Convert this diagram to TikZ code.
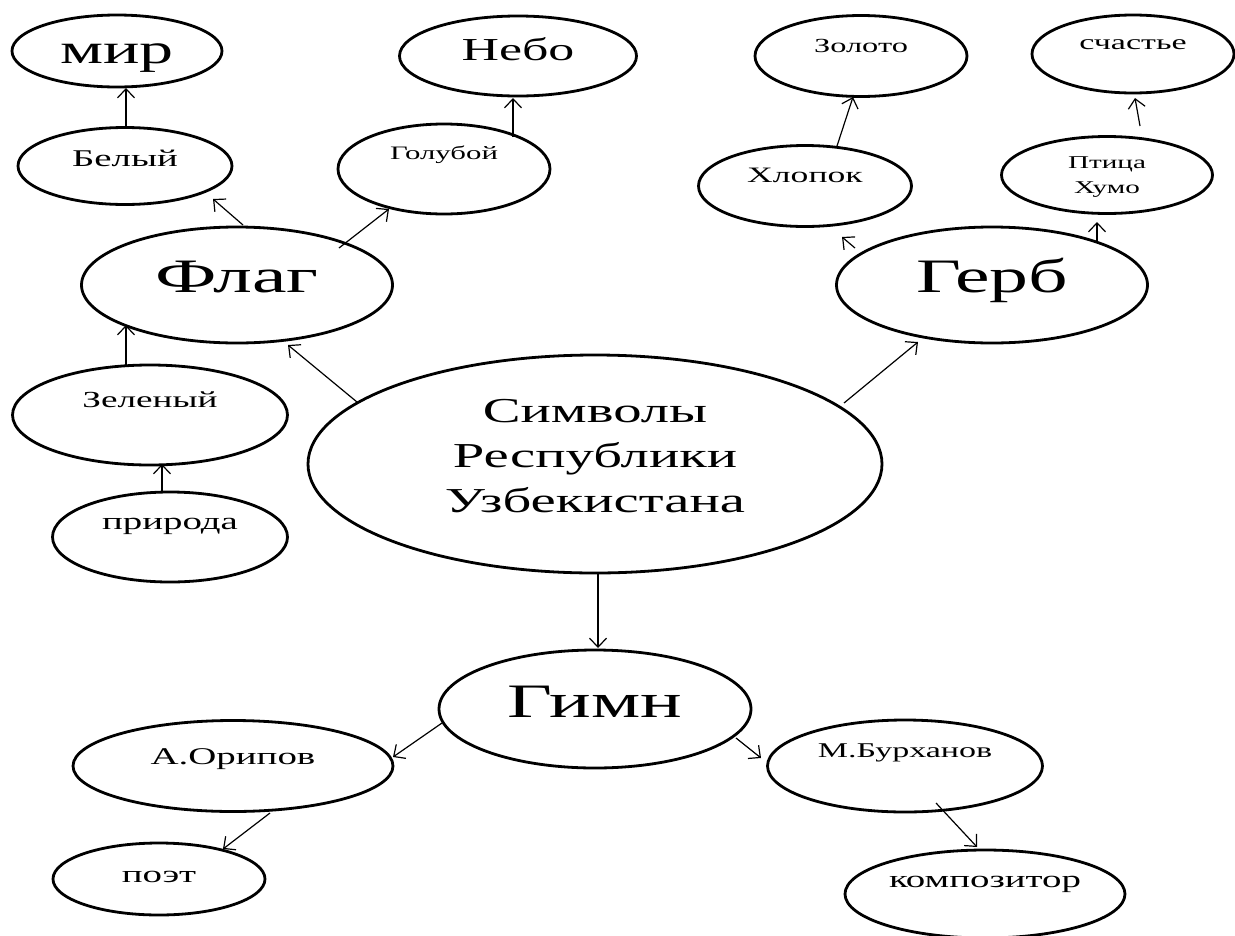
\documentclass[tikz,border=0pt]{standalone}
\usepackage{fontspec}
\setmainfont{Liberation Serif}[FakeStretch=1.62]
\usetikzlibrary{arrows.meta,shapes.geometric}
\tikzset{
  ell/.style={draw, line width=2.8pt, ellipse, inner sep=0pt},
  arr/.style={line width=1.2pt, -{Straight Barb[length=9pt,width=17pt,line width=1.2pt]}},
  lbl/.style={anchor=base, inner sep=0pt, font=\fontsize{#1pt}{#1pt}\selectfont},
}
\begin{document}
\begin{tikzpicture}[x=1pt,y=-1pt]
\useasboundingbox (0,0) rectangle (1235,935);
% ellipses
\node[ell, minimum width=210pt, minimum height=72pt]  (mir)  at (117,51)  {};
\node[ell, minimum width=214pt, minimum height=77pt]  (bel)  at (125,166) {};
\node[ell, minimum width=237pt, minimum height=80pt]  (neb)  at (518,56)  {};
\node[ell, minimum width=212pt, minimum height=90pt]  (gol)  at (444,169) {};
\node[ell, minimum width=212pt, minimum height=81pt]  (zol)  at (861,56)  {};
\node[ell, minimum width=202pt, minimum height=78pt]  (sch)  at (1133,54) {};
\node[ell, minimum width=213pt, minimum height=81pt]  (hlo)  at (805,186) {};
\node[ell, minimum width=211pt, minimum height=77pt]  (pti)  at (1107,175) {};
\node[ell, minimum width=311pt, minimum height=116pt] (flag) at (237,285) {};
\node[ell, minimum width=311pt, minimum height=116pt] (gerb) at (992,285) {};
\node[ell, minimum width=275pt, minimum height=100pt] (zel)  at (150,415) {};
\node[ell, minimum width=235pt, minimum height=90pt]  (pri)  at (170,537) {};
\node[ell, minimum width=574pt, minimum height=218pt] (main) at (595,464) {};
\node[ell, minimum width=312pt, minimum height=118pt] (gimn) at (595,709) {};
\node[ell, minimum width=320pt, minimum height=91pt]  (ori)  at (233,766) {};
\node[ell, minimum width=212pt, minimum height=72pt]  (poet) at (159,879) {};
\node[ell, minimum width=275pt, minimum height=92pt]  (bur)  at (905,766) {};
\node[ell, minimum width=280pt, minimum height=88pt]  (komp) at (985,894) {};
% texts
\node[lbl=42] (mirT)  at ([yshift=-12pt]mir.center) {мир};
\node[lbl=24] (belT)  at (bel.center) {Белый};
\node[lbl=32] (nebT)  at ([yshift=-4pt]neb.center) {Небо};
\node[lbl=19] (golT)  at ([yshift=10pt]gol.center) {Голубой};
\node[lbl=20] (zolT)  at ([yshift=4pt]zol.center) {Золото};
\node[lbl=21] (schT)  at ([yshift=5pt]sch.center) {счастье};
\node[lbl=22] (hloT)  at ([yshift=4pt]hlo.center) {Хлопок};
\node[anchor=base, inner sep=0pt, align=center, font=\fontsize{18pt}{25pt}\selectfont] (ptiT) at ([yshift=-18pt]pti.center) {Птица\\Хумо};
\node[lbl=48] (flagT) at ([yshift=-7pt]flag.center) {Флаг};
\node[lbl=48] (gerbT) at ([yshift=-7pt]gerb.center) {Герб};
\node[lbl=23] (zelT)  at ([yshift=8pt]zel.center) {Зеленый};
\node[lbl=24] (priT)  at ([yshift=8pt]pri.center) {природа};
\node[anchor=base, inner sep=0pt, align=center, font=\fontsize{35pt}{45pt}\selectfont] (mainT) at ([yshift=-48pt]main.center) {Символы\\Республики\\Узбекистана};
\node[lbl=48] (gimnT) at ([yshift=-8pt]gimn.center) {Гимн};
\node[lbl=24] (oriT)  at ([yshift=2pt]ori.center) {А.Орипов};
\node[lbl=24] (poetT) at ([yshift=-3pt]poet.center) {поэт};
\node[lbl=21] (burT)  at ([yshift=9pt]bur.center) {М.Бурханов};
\node[lbl=24] (kompT) at ([yshift=7pt]komp.center) {композитор};
% connectors
\draw[arr] ([xshift=1pt,yshift=38pt]bel.center) -- ([xshift=9pt,yshift=-37pt]mir.center);
\draw[arr] ([xshift=6pt,yshift=60pt]flag.center) -- ([xshift=88pt,yshift=-33pt]bel.center);
\draw[arr] ([xshift=102pt,yshift=37pt]flag.center) -- ([xshift=-55pt,yshift=-40pt]gol.center);
\draw[arr] ([xshift=69pt,yshift=32pt]gol.center) -- ([xshift=-5pt,yshift=-42pt]neb.center);
\draw[arr] ([xshift=32pt,yshift=40pt]hlo.center) -- ([xshift=-8pt,yshift=-41pt]zol.center);
\draw[arr] ([xshift=-137pt,yshift=37pt]gerb.center) -- ([xshift=37pt,yshift=-51pt]hlo.center);
\draw[arr] ([xshift=105pt,yshift=44pt]gerb.center) -- ([xshift=-10pt,yshift=-47pt]pti.center);
\draw[arr] ([xshift=33pt,yshift=49pt]pti.center) -- ([xshift=2pt,yshift=-44pt]sch.center);
\draw[arr] ([xshift=-238pt,yshift=62pt]main.center) -- ([xshift=51pt,yshift=-60pt]flag.center);
\draw[arr] ([xshift=249pt,yshift=61pt]main.center) -- ([xshift=-74pt,yshift=-57pt]gerb.center);
\draw[arr] ([xshift=3pt,yshift=-109pt]main.center) -- ([xshift=3pt,yshift=61pt]gimn.center);
\draw[arr] ([xshift=-24pt,yshift=50pt]zel.center) -- ([xshift=-111pt,yshift=-40pt]flag.center);
\draw[arr] ([xshift=-8pt,yshift=46pt]pri.center) -- ([xshift=12pt,yshift=-49pt]zel.center);
\draw[arr] ([xshift=-153pt,yshift=-14pt]gimn.center) -- ([xshift=160pt,yshift=9pt]ori.center);
\draw[arr] ([xshift=141pt,yshift=-29pt]gimn.center) -- ([xshift=-144pt,yshift=8pt]bur.center);
\draw[arr] ([xshift=37pt,yshift=-47pt]ori.center) -- ([xshift=64pt,yshift=30pt]poet.center);
\draw[arr] ([xshift=31pt,yshift=-37pt]bur.center) -- ([xshift=-8pt,yshift=47pt]komp.center);
\end{tikzpicture}
\end{document}
